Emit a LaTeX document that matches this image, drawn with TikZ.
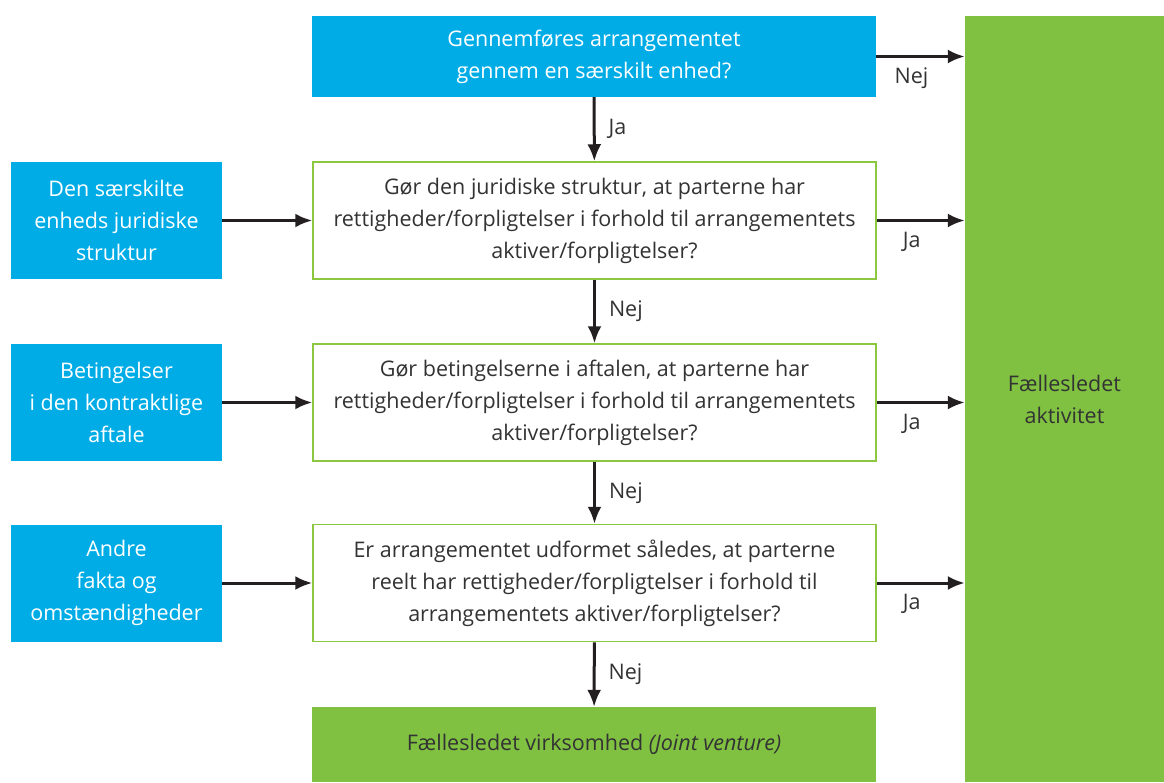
\documentclass[tikz,border=0pt]{standalone}
\usepackage{fontspec}
\setmainfont{Open Sans}
\usetikzlibrary{arrows.meta,positioning}
\definecolor{boxblue}{RGB}{0,172,230}
\definecolor{boxgreen}{RGB}{128,193,66}
\definecolor{linegreen}{RGB}{141,198,63}
\definecolor{textgrey}{RGB}{51,51,51}
\definecolor{arrowblack}{RGB}{35,31,32}

\begin{document}
\begin{tikzpicture}[x=1pt, y=-1pt, >={Latex[length=17pt,width=14pt]}]
    \tikzstyle{every node} = [font=\fontsize{21.5}{32}\selectfont, inner sep=0pt]
    \tikzstyle{bluebox} = [align=center, fill=boxblue, text=white]
    \tikzstyle{question} = [align=center, draw=linegreen, line width=1.5pt, fill=white, text=textgrey, minimum width=563pt, minimum height=117pt]
    \tikzstyle{factor} = [bluebox, minimum width=211pt, minimum height=117pt]
    \tikzstyle{result} = [align=center, fill=boxgreen, text=textgrey]
    \tikzstyle{flow} = [draw=arrowblack, line width=3pt, ->]
    \tikzstyle{answer} = [text=textgrey]
    \tikzstyle{side} = [answer, below=10pt, xshift=-9pt]

    \useasboundingbox (0,0) rectangle (1164,782);

    \node (entity) [bluebox, minimum width=564pt, minimum height=81pt] at (594,56.5) {Gennemføres arrangementet \\ gennem en særskilt enhed?};
    \node (joint) [result, minimum width=199pt, minimum height=766pt] at (1064.5,399) {Fællesledet \\ aktivitet};
    \node (legal) [question] at (594.5,220.5) {Gør den juridiske struktur, at parterne har \\ rettigheder/forpligtelser i forhold til arrangementets \\ aktiver/forpligtelser?};
    \node (terms) [question] at (594.5,402.5) {Gør betingelserne i aftalen, at parterne har \\ rettigheder/forpligtelser i forhold til arrangementets \\ aktiver/forpligtelser?};
    \node (other) [question] at (594.5,583) {Er arrangementet udformet således, at parterne \\ reelt har rettigheder/forpligtelser i forhold til \\ arrangementets aktiver/forpligtelser?};
    \node (venture) [result, minimum width=564pt, minimum height=75pt] at (594,744.5) {Fællesledet virksomhed \textit{(Joint venture)}};

    \node (structure) [factor] at (116.5,220.5) {Den særskilte \\ enheds juridiske \\ struktur};
    \node (contract) [factor] at (116.5,402.5) {Betingelser \\ i den kontraktlige \\ aftale};
    \node (facts) [factor] at (116.5,583) {Andre \\ fakta og \\ omstændigheder};

    \draw [flow] (entity) -- node [answer, right=13pt] {Ja} (legal);
    \draw [flow] (legal) -- node [answer, right=13pt] {Nej} (terms);
    \draw [flow] (terms) -- node [answer, right=13pt] {Nej} (other);
    \draw [flow] (other) -- node [answer, right=13pt] {Nej} (venture);

    \draw [flow] (entity.east) -- node [side] {Nej} (entity.east -| joint.west);
    \draw [flow] (legal.east) -- node [side] {Ja} (legal.east -| joint.west);
    \draw [flow] (terms.east) -- node [side] {Ja} (terms.east -| joint.west);
    \draw [flow] (other.east) -- node [side] {Ja} (other.east -| joint.west);

    \draw [flow] (structure) -- (legal);
    \draw [flow] (contract) -- (terms);
    \draw [flow] (facts) -- (other);
\end{tikzpicture}
\end{document}
